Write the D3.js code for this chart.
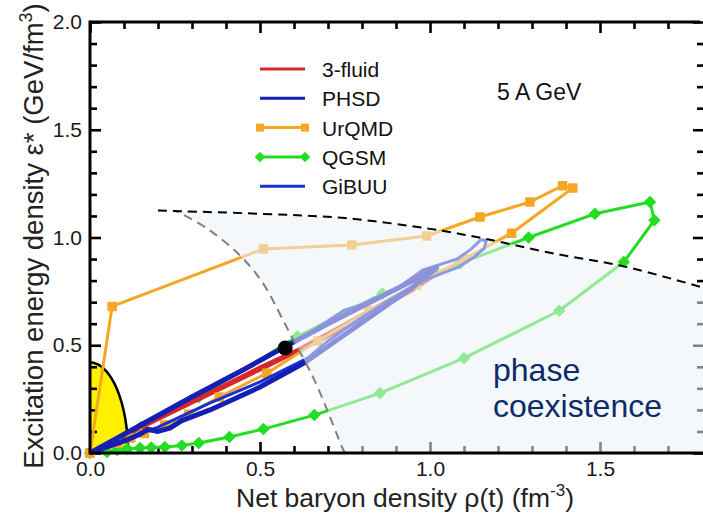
<!DOCTYPE html>
<html>
<head>
<meta charset="utf-8">
<script src="https://cdn.jsdelivr.net/npm/d3@7"></script>
<style>
  body { margin: 0; background: #fff; }
  text { font-family: "Liberation Sans", Arial, Helvetica, sans-serif; }
</style>
</head>
<body>
<div id="chart"></div>
<script>
// tick values
var xMajor = [0, 0.5, 1.0, 1.5];
var xMinor = [0.1, 0.2, 0.3, 0.4, 0.6, 0.7, 0.8, 0.9, 1.1, 1.2, 1.3, 1.4, 1.6, 1.7];
var yMajor = [0, 0.5, 1.0, 1.5, 2.0];
var yMinor = [0.1, 0.2, 0.3, 0.4, 0.6, 0.7, 0.8, 0.9, 1.1, 1.2, 1.3, 1.4, 1.6, 1.7, 1.8, 1.9];

// trajectories (rho, eps*)
var fluid3 = [[0,0],[0.1,0.085],[0.25,0.205],[0.4,0.32],[0.5,0.4],[0.61,0.48],[0.75,0.6],[0.9,0.73],[1.0,0.82],[1.03,0.84],
  [0.95,0.755],[0.8,0.62],[0.65,0.5],[0.5,0.385],[0.35,0.27],[0.2,0.155],[0.1,0.075],[0,0]];
var phsd = [[0,0],[0.15,0.13],[0.3,0.26],[0.45,0.385],[0.57,0.49],[0.7,0.6],[0.85,0.72],[0.95,0.8],[1.0,0.85],[1.02,0.86],
  [0.95,0.77],[0.85,0.66],[0.75,0.55],[0.632,0.42],[0.5,0.306],[0.353,0.2],[0.27,0.15],[0.235,0.116],[0.2,0.1],[0.17,0.11],[0.15,0.09],[0.108,0.06],[0,0]];
var urqmd = [[0,0],[0.065,0.68],[0.51,0.947],[0.77,0.965],[0.99,1.007],[1.147,1.095],[1.294,1.165],[1.39,1.24],[1.42,1.23],
  [1.24,1.02],[1.1,0.9],[0.96,0.78],[0.82,0.66],[0.67,0.52],[0.52,0.37],[0.38,0.26],[0.29,0.18],[0.22,0.13],[0.16,0.09],[0.12,0.07],[0.08,0.045],[0,0]];
var qgsm = [[0.05,0.005],[0.08,0.014],[0.11,0.019],[0.147,0.023],[0.18,0.025],[0.22,0.028],[0.27,0.035],[0.32,0.046],[0.41,0.074],
  [0.51,0.111],[0.66,0.176],[0.853,0.278],[1.10,0.44],[1.38,0.66],[1.57,0.886],[1.66,1.08],[1.647,1.165],[1.485,1.11],[1.29,1.0],
  [1.088,0.88],[0.86,0.74],[0.61,0.54],[0.32,0.26],[0.15,0.12],[0,0]];
var gibuu = [[0,0],[0.15,0.135],[0.3,0.265],[0.45,0.39],[0.56,0.485],[0.65,0.56],[0.745,0.66],[0.8,0.69],[0.84,0.72],[0.9,0.76],
  [0.98,0.85],[1.03,0.875],[1.08,0.9],[1.12,0.945],[1.15,0.99],[1.165,0.985],[1.16,0.95],[1.13,0.91],[1.08,0.86],[0.98,0.80],
  [0.88,0.71],[0.8,0.63],[0.7,0.52],[0.64,0.44],[0.5,0.33],[0.35,0.23],[0.2,0.12],[0.1,0.06],[0,0]];

// phase boundaries
var coexBoundary = [[0.2,1.125],[0.5,1.11],[0.75,1.09],[1.0,1.04],[1.16,0.995],[1.35,0.93],[1.57,0.866],[1.82,0.76]];
var spinodal = [[0.75,0],[0.741,0.028],[0.706,0.167],[0.656,0.352],[0.594,0.537],[0.568,0.616],[0.509,0.787],[0.441,0.917],[0.344,1.042],[0.25,1.125]];
var criticalPoint = [0.574, 0.487];
var hadronGas = {rx: 0.112, ry: 0.42};

var series = [
  {name: "3-fluid", data: fluid3, color: "#d8262a", width: 3, marker: null},
  {name: "PHSD", data: phsd, color: "#1420b4", width: 5, marker: null},
  {name: "UrQMD", data: urqmd, color: "#f5a623", width: 3, marker: "square"},
  {name: "QGSM", data: qgsm, color: "#22dd22", width: 3, marker: "diamond"},
  {name: "GiBUU", data: gibuu, color: "#1a30d0", width: 3, marker: null}
];
var drawOrder = ["QGSM", "3-fluid", "UrQMD", "GiBUU", "PHSD"];

var W = 703, H = 523;
var svg = d3.select("#chart").append("svg").attr("width", W).attr("height", H);

var x = d3.scaleLinear().domain([0, 1.8]).range([90, 702]);
var y = d3.scaleLinear().domain([0, 2]).range([453, 22]);
var xR = x.range(), yR = y.range();

// yellow region at origin
var ell = d3.range(0, 91, 3).map(function(a) {
  var t = a * Math.PI / 180;
  return [hadronGas.rx * Math.cos(t), hadronGas.ry * Math.sin(t)];
});
var line = d3.line().x(function(d) { return x(d[0]); }).y(function(d) { return y(d[1]); });
svg.append("path")
  .attr("d", line(ell) + "L" + x(0) + "," + y(0) + "Z")
  .attr("fill", "#fff000");
svg.append("path")
  .attr("d", line(ell))
  .attr("fill", "none").attr("stroke", "#000").attr("stroke-width", 2.5);

// axes ticks (domain drawn later)
var fmt = d3.format(".1f");
svg.append("g").attr("transform", "translate(0," + yR[0] + ")")
  .call(d3.axisBottom(x).tickValues(xMajor).tickSize(-11).tickPadding(8).tickFormat(fmt));
svg.append("g").attr("transform", "translate(0," + yR[0] + ")")
  .call(d3.axisBottom(x).tickValues(xMinor).tickSize(-7).tickFormat(""));
svg.append("g").attr("transform", "translate(0," + yR[1] + ")")
  .call(d3.axisTop(x).tickValues(xMajor).tickSize(-11).tickFormat(""));
svg.append("g").attr("transform", "translate(0," + yR[1] + ")")
  .call(d3.axisTop(x).tickValues(xMinor).tickSize(-7).tickFormat(""));
svg.append("g").attr("transform", "translate(" + xR[0] + ",0)")
  .call(d3.axisLeft(y).tickValues(yMajor).tickSize(-11).tickPadding(8).tickFormat(fmt));
svg.append("g").attr("transform", "translate(" + xR[0] + ",0)")
  .call(d3.axisLeft(y).tickValues(yMinor).tickSize(-7).tickFormat(""));
svg.append("g").attr("transform", "translate(704,0)")
  .call(d3.axisRight(y).tickValues(yMajor).tickSize(-11).tickFormat(""));
svg.append("g").attr("transform", "translate(704,0)")
  .call(d3.axisRight(y).tickValues(yMinor).tickSize(-7).tickFormat(""));
svg.selectAll(".domain").remove();
svg.selectAll(".tick line").attr("stroke", "#000").attr("stroke-width", 2.6);
svg.selectAll(".tick text").attr("font-size", 21).attr("fill", "#1a1a1a")
  .style("font-family", '"Liberation Sans", Arial, sans-serif');

// trajectories
var symSquare = d3.symbol().type(d3.symbolSquare).size(64);
var symDiamond = d3.symbol().type(d3.symbolSquare).size(55);
function markerTf(px, py, kind) {
  return "translate(" + px + "," + py + ")" + (kind == "diamond" ? " rotate(45)" : "");
}
drawOrder.forEach(function(nm) {
  var s = series.filter(function(d) { return d.name == nm; })[0];
  svg.append("path")
    .attr("d", line(s.data))
    .attr("fill", "none")
    .attr("stroke", s.color)
    .attr("stroke-width", s.width)
    .attr("stroke-linejoin", "round");
  if (s.marker) {
    svg.selectAll(null)
      .data(s.data)
      .enter().append("path")
        .attr("d", s.marker == "square" ? symSquare() : symDiamond())
        .attr("transform", function(d) { return markerTf(x(d[0]), y(d[1]), s.marker); })
        .attr("fill", s.color)
        .attr("stroke", s.color).attr("stroke-width", 1.5).attr("stroke-linejoin", "round");
  }
});

// phase coexistence shading (semi transparent, on top of curves)
var smooth = d3.line().x(function(d) { return x(d[0]); }).y(function(d) { return y(d[1]); })
  .curve(d3.curveCatmullRom);
var regionD = smooth(coexBoundary) + "L" + x(1.82) + "," + y(0) + smooth(spinodal).replace("M", "L") + "Z";
svg.append("path")
  .attr("d", regionD)
  .attr("fill", "#edf3f6")
  .attr("fill-opacity", 0.55);

svg.append("path")
  .attr("d", smooth(spinodal))
  .attr("fill", "none").attr("stroke", "#808080").attr("stroke-width", 2)
  .attr("stroke-dasharray", "9,6");
svg.append("path")
  .attr("d", smooth(coexBoundary))
  .attr("fill", "none").attr("stroke", "#000").attr("stroke-width", 2)
  .attr("stroke-dasharray", "9,6");

svg.append("circle")
  .attr("cx", x(criticalPoint[0])).attr("cy", y(criticalPoint[1]))
  .attr("r", 7.5).attr("fill", "#000");

// frame
svg.append("line").attr("x1", xR[0]).attr("x2", 700).attr("y1", yR[1]).attr("y2", yR[1])
  .attr("stroke", "#000").attr("stroke-width", 3);
svg.append("line").attr("x1", xR[0]).attr("x2", W).attr("y1", yR[0]).attr("y2", yR[0])
  .attr("stroke", "#000").attr("stroke-width", 3);
svg.append("line").attr("x1", xR[0]).attr("x2", xR[0]).attr("y1", yR[1] - 1.5).attr("y2", yR[0] + 1.5)
  .attr("stroke", "#000").attr("stroke-width", 3);

// legend
var lg = svg.append("g").attr("transform", "translate(260,69)");
series.forEach(function(s, i) {
  var row = lg.append("g").attr("transform", "translate(0," + (i * 29.3) + ")");
  row.append("line").attr("x1", 0).attr("x2", 45).attr("y1", 0).attr("y2", 0)
    .attr("stroke", s.color).attr("stroke-width", 3);
  if (s.marker) {
    [0, 45].forEach(function(px) {
      row.append("path")
        .attr("d", s.marker == "square" ? symSquare() : symDiamond())
        .attr("transform", markerTf(px, 0, s.marker))
        .attr("fill", s.color);
    });
  }
  row.append("text").attr("x", 62).attr("y", 8).attr("font-size", 21).attr("fill", "#111").text(s.name);
});

svg.append("text").attr("x", 497).attr("y", 100).attr("font-size", 23).attr("fill", "#111").text("5 A GeV");

svg.append("text").attr("x", 493).attr("y", 381).attr("font-size", 32).attr("fill", "#0d2a6b").text("phase");
svg.append("text").attr("x", 493).attr("y", 417).attr("font-size", 32).attr("fill", "#0d2a6b").text("coexistence");

// axis titles
var xt = svg.append("text").attr("x", 405).attr("y", 507).attr("text-anchor", "middle")
  .attr("font-size", 26.5).attr("fill", "#222");
xt.append("tspan").text("Net baryon density \u03c1(t) (fm");
xt.append("tspan").attr("dy", -11).attr("font-size", 17).text("-3");
xt.append("tspan").attr("dy", 11).text(")");

var yt = svg.append("text").attr("transform", "translate(43,236) rotate(-90)").attr("text-anchor", "middle")
  .attr("font-size", 27.5).attr("fill", "#222");
yt.append("tspan").text("Excitation energy density \u03b5* (GeV/fm");
yt.append("tspan").attr("dy", -11).attr("font-size", 18).text("3");
yt.append("tspan").attr("dy", 11).text(")");
</script>
</body>
</html>
